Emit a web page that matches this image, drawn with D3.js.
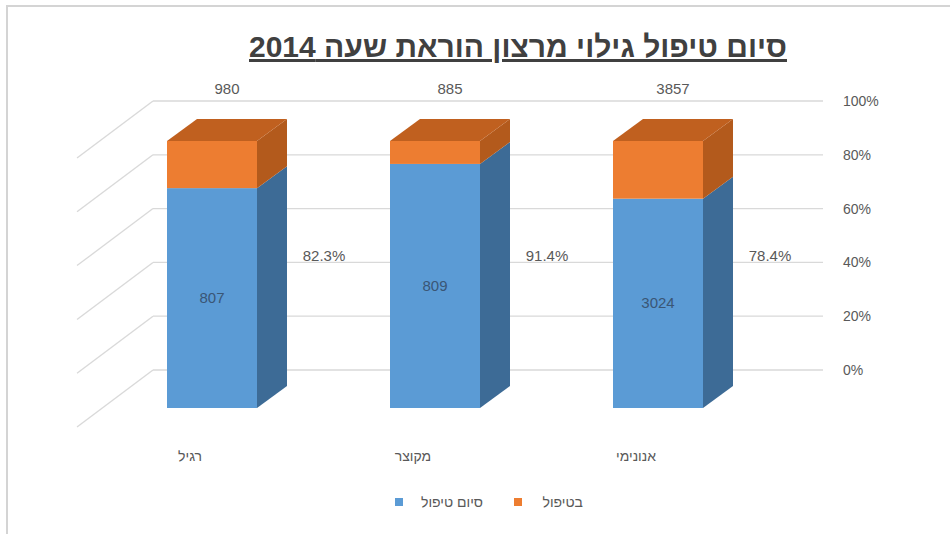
<!DOCTYPE html>
<html>
<head>
<meta charset="utf-8">
<script src="https://cdn.jsdelivr.net/npm/d3@7"></script>
<style>
  body { margin: 0; background: #fff; }
  svg text { font-family: "Liberation Sans", "DejaVu Sans", sans-serif; }
</style>
</head>
<body>
<div class="graph"></div>
<script>
let w = 950;
let h = 534;

// data
let categories = ["רגיל", "מקוצר", "אנונימי"];
let finished = [807, 809, 3024];      // סיום טיפול
let inTreatment = [173, 76, 833];     // בטיפול
let totals = [980, 885, 3857];
let shareLabels = ["82.3%", "91.4%", "78.4%"];
let yTicks = [0, 0.2, 0.4, 0.6, 0.8, 1];
let seriesNames = ["סיום טיפול", "בטיפול"];

let rows = categories.map((c, i) => ({ cat: c, fin: finished[i], tr: inTreatment[i] }));
let stacked = d3.stack().keys(["fin", "tr"]).offset(d3.stackOffsetExpand)(rows);

let svg = d3.select(".graph").append("svg").attr("width", w).attr("height", h);

// chart border
svg.append("path")
  .attr("d", "M7,534 L7,6 L950,6")
  .attr("fill", "none")
  .attr("stroke", "#d4d4d4")
  .attr("stroke-width", 2);

// title
svg.append("text")
  .attr("x", 518)
  .attr("y", 57)
  .attr("text-anchor", "middle")
  .style("font-size", "30px")
  .style("font-weight", "bold")
  .style("text-decoration", "underline")
  .attr("fill", "#404040")
  .text("סיום טיפול גילוי מרצון הוראת שעה 2014");

let xScale = d3.scalePoint().domain(categories).range([212, 658]);
let yWall = d3.scaleLinear().domain([0, 1]).range([370, 101]);
let yBar = d3.scaleLinear().domain([0, 1]).range([408, 141]);
let barW = 90;
let dx = 30, dy = -22;           // bar depth
let wallX0 = 153, wallX1 = 823;
let sideDx = -76, sideDy = 57;   // side wall depth

// back wall gridlines
svg.append("g")
  .selectAll("line")
  .data(yTicks)
  .enter()
  .append("line")
  .attr("x1", wallX0)
  .attr("x2", wallX1)
  .attr("y1", d => yWall(d))
  .attr("y2", d => yWall(d))
  .attr("stroke", "#d9d9d9")
  .attr("stroke-width", 1.3);

// side wall gridlines
svg.append("g")
  .selectAll("line")
  .data(yTicks)
  .enter()
  .append("line")
  .attr("x1", wallX0)
  .attr("x2", wallX0 + sideDx)
  .attr("y1", d => yWall(d))
  .attr("y2", d => yWall(d) + sideDy)
  .attr("stroke", "#d9d9d9")
  .attr("stroke-width", 1.3);

// y axis
let yAxis = d3.axisRight(yWall).tickValues(yTicks).tickFormat(d3.format(".0%")).tickSize(0).tickPadding(0);
let yg = svg.append("g").attr("transform", "translate(843,0)").call(yAxis);
yg.select(".domain").remove();
yg.selectAll("text")
  .style("font-size", "14px")
  .attr("fill", "#595959");

let frontColors = ["#5b9bd5", "#ed7d31"];
let sideColors = ["#3d6b96", "#b35a1c"];
let topColor = "#c0601f";

stacked.forEach(function (layer, li) {
  let g = svg.append("g");
  layer.forEach(function (d, i) {
    let x0 = xScale(categories[i]) - barW / 2;
    let x1 = x0 + barW;
    let ya = yBar(d[0]);
    let yb = yBar(d[1]);
    // side face
    g.append("polygon")
      .attr("points", [[x1, ya], [x1 + dx, ya + dy], [x1 + dx, yb + dy], [x1, yb]].join(" "))
      .attr("fill", sideColors[li]);
    // front face
    g.append("rect")
      .attr("x", x0)
      .attr("y", yb)
      .attr("width", barW)
      .attr("height", ya - yb)
      .attr("fill", frontColors[li]);
    // top face on the last series
    if (li == stacked.length - 1) {
      g.append("polygon")
        .attr("points", [[x0, yb], [x0 + dx, yb + dy], [x1 + dx, yb + dy], [x1, yb]].join(" "))
        .attr("fill", topColor);
    }
  });
});

// labels inside the blue part
svg.append("g")
  .selectAll("text")
  .data(stacked[0])
  .enter()
  .append("text")
  .attr("x", (d, i) => xScale(categories[i]))
  .attr("y", d => (yBar(d[0]) + yBar(d[1])) / 2 + 5)
  .attr("text-anchor", "middle")
  .style("font-size", "15px")
  .attr("fill", "#3a5675")
  .text((d, i) => finished[i]);

// totals above
svg.append("g")
  .selectAll("text")
  .data(totals)
  .enter()
  .append("text")
  .attr("x", (d, i) => xScale(categories[i]) + 15)
  .attr("y", 94)
  .attr("text-anchor", "middle")
  .style("font-size", "15px")
  .attr("fill", "#595959")
  .text(d => d);

// share labels
svg.append("g")
  .selectAll("text")
  .data(shareLabels)
  .enter()
  .append("text")
  .attr("x", (d, i) => xScale(categories[i]) + 112)
  .attr("y", 261)
  .attr("text-anchor", "middle")
  .style("font-size", "15px")
  .attr("fill", "#595959")
  .text(d => d);

// category labels
svg.append("g")
  .selectAll("text")
  .data(categories)
  .enter()
  .append("text")
  .attr("x", d => xScale(d) - 22)
  .attr("y", 461)
  .attr("text-anchor", "middle")
  .style("font-size", "14px")
  .attr("fill", "#595959")
  .text(d => d);

// legend
let legend = [
  { name: seriesNames[0], color: frontColors[0], sq: 395, tx: 483 },
  { name: seriesNames[1], color: frontColors[1], sq: 514, tx: 583 }
];
legend.forEach(function (l) {
  svg.append("rect")
    .attr("x", l.sq)
    .attr("y", 498)
    .attr("width", 8)
    .attr("height", 8)
    .attr("fill", l.color);
  svg.append("text")
    .attr("x", l.tx)
    .attr("y", 507)
    .attr("text-anchor", "end")
    .style("font-size", "14px")
    .attr("fill", "#595959")
    .text(l.name);
});
</script>
</body>
</html>
